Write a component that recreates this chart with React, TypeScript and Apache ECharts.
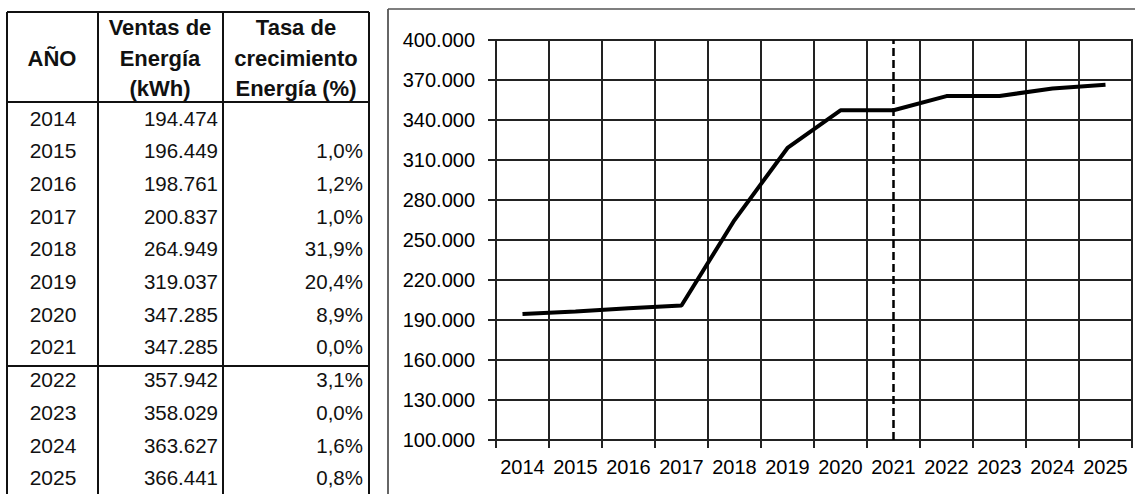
import React, { useEffect, useRef } from "react";
import * as echarts from "echarts";

const years = ["2014", "2015", "2016", "2017", "2018", "2019", "2020", "2021", "2022", "2023", "2024", "2025"];
const ventas = [194474, 196449, 198761, 200837, 264949, 319037, 347285, 347285, 357942, 358029, 363627, 366441];
const tasa = ["", "1,0%", "1,2%", "1,0%", "31,9%", "20,4%", "8,9%", "0,0%", "3,1%", "0,0%", "1,6%", "0,8%"];
const headerAno = ["AÑO"];
const headerVentas = ["Ventas de", "Energía", "(kWh)"];
const headerTasa = ["Tasa de", "crecimiento", "Energía (%)"];
const markYear = "2021";
const yMin = 100000;
const yMax = 400000;
const yStep = 30000;

const fmt = (v: number) => String(v).replace(/\B(?=(\d{3})+(?!\d))/g, ".");

const FONT = "'Liberation Sans', Arial, sans-serif";

export default function App() {
  const ref = useRef<HTMLDivElement>(null);
  useEffect(() => {
    const chart = echarts.init(ref.current!, null, { renderer: "svg" });

    const graphics: any[] = [];
    const lineStyle = { stroke: "#111", lineWidth: 2 };
    // table lines
    const colX = [7, 98, 223, 369];
    colX.forEach((x) => graphics.push({ type: "line", shape: { x1: x, y1: 12, x2: x, y2: 494 }, style: lineStyle }));
    [12, 102, 366].forEach((y) => graphics.push({ type: "line", shape: { x1: 7, y1: y, x2: 369, y2: y }, style: lineStyle }));
    // chart frame
    graphics.push({ type: "line", shape: { x1: 388, y1: 9, x2: 388, y2: 494 }, style: { stroke: "#333", lineWidth: 1.5 } });
    graphics.push({ type: "line", shape: { x1: 388, y1: 9, x2: 1135, y2: 9 }, style: { stroke: "#555", lineWidth: 1.5 } });

    const headY = [27, 58, 88];
    const hStyle = (text: string, x: number, y: number) => ({
      type: "text",
      x,
      y,
      style: { text, fill: "#111", font: `bold 22px ${FONT}`, align: "center", verticalAlign: "middle" },
    });
    graphics.push(hStyle(headerAno[0], 52, 58));
    headerVentas.forEach((t, i) => graphics.push(hStyle(t, 160, headY[i])));
    headerTasa.forEach((t, i) => graphics.push(hStyle(t, 296, headY[i])));

    years.forEach((yr, i) => {
      const y = 118 + i * 32.7;
      const base = { fill: "#111", font: `20.5px ${FONT}`, verticalAlign: "middle" };
      graphics.push({ type: "text", x: 53, y, style: { ...base, text: yr, align: "center", font: `21px ${FONT}` } });
      graphics.push({ type: "text", x: 218, y, style: { ...base, text: fmt(ventas[i]), align: "right" } });
      if (tasa[i]) graphics.push({ type: "text", x: 363, y, style: { ...base, text: tasa[i], align: "right" } });
    });

    chart.setOption({
      animation: false,
      backgroundColor: "#fff",
      grid: { left: 496, top: 40, width: 636, height: 400, show: true, borderColor: "#222", borderWidth: 2, containLabel: false },
      xAxis: {
        type: "category",
        data: years,
        boundaryGap: true,
        axisLine: { show: true, lineStyle: { color: "#222", width: 2 } },
        axisTick: { show: true, length: 8, inside: false, lineStyle: { color: "#222", width: 2 } },
        axisLabel: { color: "#000", fontFamily: FONT, fontSize: 20, margin: 17, interval: 0 },
        splitLine: { show: true, interval: 0, lineStyle: { color: "#222", width: 2 } },
      },
      yAxis: {
        type: "value",
        min: yMin,
        max: yMax,
        interval: yStep,
        axisLine: { show: true, lineStyle: { color: "#222", width: 2 } },
        axisTick: { show: true, length: 8, inside: false, lineStyle: { color: "#222", width: 2 } },
        axisLabel: { color: "#000", fontFamily: FONT, fontSize: 20, margin: 21, formatter: (v: number) => fmt(v) },
        splitLine: { show: true, lineStyle: { color: "#222", width: 2 } },
      },
      series: [
        {
          type: "line",
          data: ventas,
          symbol: "none",
          lineStyle: { color: "#000", width: 4 },
          markLine: {
            silent: true,
            symbol: "none",
            label: { show: false },
            lineStyle: { color: "#000", width: 2.5, type: [8, 4] },
            data: [{ xAxis: markYear }],
          },
        },
      ],
      graphic: graphics,
    });
    return () => chart.dispose();
  }, []);
  return <div ref={ref} style={{ position: "fixed", left: 0, top: 0, width: 1135, height: 494, background: "#fff" }} />;
}
